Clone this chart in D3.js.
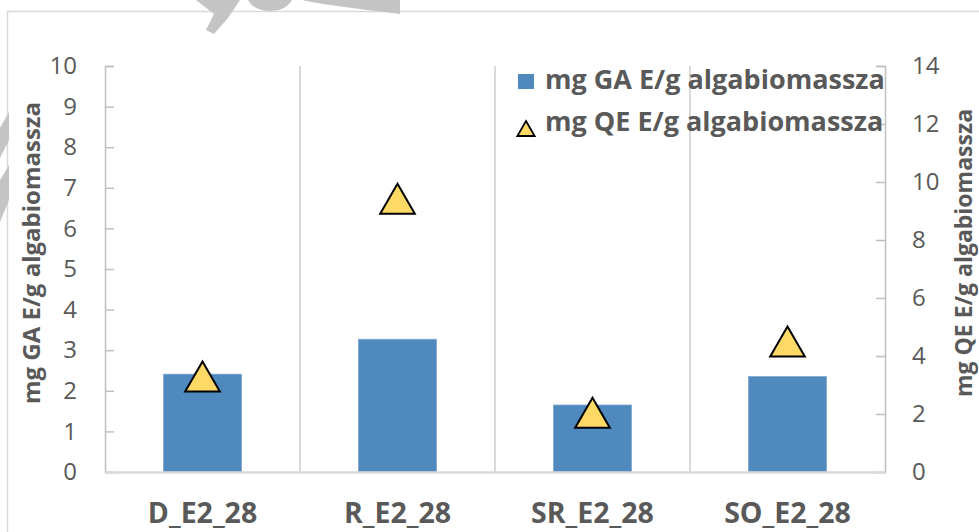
<!DOCTYPE html>
<html>
<head>
<meta charset="utf-8">
<script src="https://cdn.jsdelivr.net/npm/d3@7"></script>
<style>
  html, body { margin: 0; padding: 0; background: #fff; }
  svg { display: block; font-family: "Open Sans", "Liberation Sans", sans-serif; }
</style>
</head>
<body>
<svg id="chart" width="979" height="532"></svg>
<script>
// Samples and measured values
const categories = ["D_E2_28", "R_E2_28", "SR_E2_28", "SO_E2_28"];
const gaValues = [2.41, 3.27, 1.65, 2.35];   // mg GA E/g algabiomassza (left axis, bars)
const qeValues = [3.22, 9.35, 1.97, 4.43];   // mg QE E/g algabiomassza (right axis, triangles)
const leftTicks = [0, 1, 2, 3, 4, 5, 6, 7, 8, 9, 10];
const rightTicks = [0, 2, 4, 6, 8, 10, 12, 14];
const gaLabel = "mg GA E/g algabiomassza";
const qeLabel = "mg QE E/g algabiomassza";

const svg = d3.select("#chart");
const plot = { left: 105, right: 885, top: 66, bottom: 472 };
const textColor = "#595959";
const gridColor = "#d9d9d9";
const barColor = "#4f89bd";
const triFill = "#ffd966";

// Outer chart-area frame
svg.append("rect")
  .attr("x", 7.5).attr("y", 11.5)
  .attr("width", 1000).attr("height", 600)
  .attr("fill", "#fff").attr("stroke", gridColor).attr("stroke-width", 1.5);

const x = d3.scaleBand().domain(categories).range([plot.left, plot.right]).paddingInner(0).paddingOuter(0);
const yL = d3.scaleLinear().domain([0, 10]).range([plot.bottom, plot.top]);
const yR = d3.scaleLinear().domain([0, 14]).range([plot.bottom, plot.top]);

// Vertical separators between categories
svg.append("g").selectAll("line")
  .data(categories.slice(1))
  .join("line")
  .attr("x1", d => x(d)).attr("x2", d => x(d))
  .attr("y1", plot.top).attr("y2", plot.bottom)
  .attr("stroke", gridColor).attr("stroke-width", 2);

// Bars
const barW = x.bandwidth() * 0.4;
svg.append("g").selectAll("rect")
  .data(categories)
  .join("rect")
  .attr("x", (d) => x(d) + (x.bandwidth() - barW) / 2)
  .attr("y", (d, i) => yL(gaValues[i]))
  .attr("width", barW)
  .attr("height", (d, i) => plot.bottom - yL(gaValues[i]))
  .attr("fill", barColor)
  .attr("stroke", "#7ea6cf").attr("stroke-width", 0.8);

// Left axis (ticks point into the plot)
const leftAxis = d3.axisLeft(yL).tickValues(leftTicks).tickSize(-9).tickPadding(37).tickFormat(d3.format("d"));
const gL = svg.append("g").attr("transform", `translate(${plot.left},0)`).call(leftAxis);

// Right axis
const rightAxis = d3.axisRight(yR).tickValues(rightTicks).tickSize(-9).tickPadding(37).tickFormat(d3.format("d"));
const gR = svg.append("g").attr("transform", `translate(${plot.right},0)`).call(rightAxis);

[gL, gR].forEach(g => {
  g.select(".domain").attr("stroke", "#bfbfbf").attr("stroke-width", 1.5);
  g.selectAll(".tick line").attr("stroke", "#bfbfbf").attr("stroke-width", 1.5);
  g.selectAll(".tick text")
    .attr("fill", textColor)
    .style("font-family", "'Open Sans', sans-serif")
    .style("font-size", "24px");
});
gL.selectAll(".tick text").attr("x", 77 - plot.left).attr("text-anchor", "end");
gR.selectAll(".tick text").attr("x", 912 - plot.right).attr("text-anchor", "start");

// Bottom axis
const bottomAxis = d3.axisBottom(x).tickSize(0).tickPadding(0);
const gB = svg.append("g").attr("transform", `translate(0,${plot.bottom})`).call(bottomAxis);
gB.select(".domain").attr("stroke", gridColor).attr("stroke-width", 2.5);
gB.selectAll(".tick text")
  .attr("fill", textColor)
  .attr("dy", 0).attr("y", 51)
  .style("font-family", "'Open Sans', sans-serif")
  .style("font-size", "28.5px")
  .style("font-weight", "bold");

// Triangles (right axis)
const tri = d3.symbol().type(d3.symbolTriangle).size(520);
svg.append("g").selectAll("path")
  .data(categories)
  .join("path")
  .attr("d", tri)
  .attr("transform", (d, i) => `translate(${x(d) + x.bandwidth() / 2},${yR(qeValues[i]) + 3})`)
  .attr("fill", triFill).attr("stroke", "#000").attr("stroke-width", 2).attr("stroke-linejoin", "miter");

// Axis titles
svg.append("text")
  .attr("transform", `translate(40,253) rotate(-90)`)
  .attr("text-anchor", "middle")
  .attr("fill", textColor)
  .style("font-size", "24px").style("font-weight", "bold")
  .text(gaLabel);
svg.append("text")
  .attr("transform", `translate(972,253) rotate(-90)`)
  .attr("text-anchor", "middle")
  .attr("fill", textColor)
  .style("font-size", "23px").style("font-weight", "bold")
  .text(qeLabel);

// Legend
const legend = svg.append("g");
legend.append("rect").attr("x", 518).attr("y", 74).attr("width", 16).attr("height", 15).attr("fill", barColor);
legend.append("text").attr("x", 545).attr("y", 89)
  .attr("fill", textColor).style("font-size", "27px").style("font-weight", "bold").text(gaLabel);
legend.append("path")
  .attr("d", d3.symbol().type(d3.symbolTriangle).size(130))
  .attr("transform", "translate(526,131)")
  .attr("fill", triFill).attr("stroke", "#000").attr("stroke-width", 1.8);
legend.append("text").attr("x", 545).attr("y", 131)
  .attr("fill", textColor).style("font-size", "27px").style("font-weight", "bold").text(qeLabel);

// Grey stamp strokes along the top and left edges
const stamp = svg.append("g").attr("fill", "#c4c4c4");
stamp.append("path").attr("d", "M196,0 L240,0 L228,18 L214,34 L206,30 L214,14 Z");
stamp.append("path").attr("d", "M248,0 L292,0 C288,8 278,11 270,11 C260,11 252,7 248,0 Z");
stamp.append("path").attr("d", "M302,0 L400,0 L400,14 C370,10 330,6 302,0 Z");
stamp.append("path").attr("d", "M0,128 L9,112 L9,140 L0,158 Z");
stamp.append("path").attr("d", "M0,180 L9,165 L9,200 L0,222 Z");
</script>
</body>
</html>
